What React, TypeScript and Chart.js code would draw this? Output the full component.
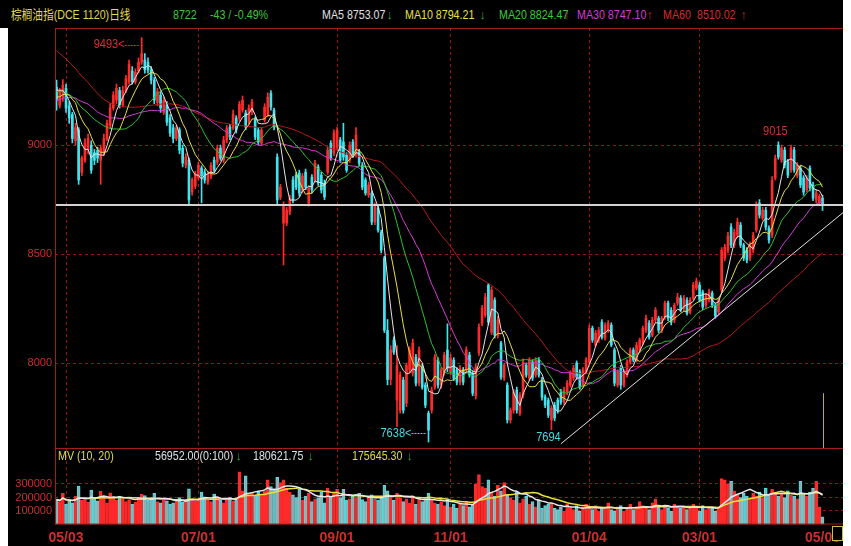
import React, { useEffect, useRef } from 'react';
import { Chart, registerables } from 'chart.js';
Chart.register(...registerables);

const SANS = '"Liberation Sans", Arial, sans-serif';

// closes before the visible window (only used to seed the moving averages)
const histCloses = [
  9980, 10020, 9960, 9990, 9940, 9900, 9960, 9930, 9880, 9920, 9960, 9900, 9850, 9880, 9780,
  9700, 9620, 9560, 9500, 9450, 9420, 9380, 9400, 9350, 9300, 9330, 9280, 9250, 9200, 9180,
  9150, 9100, 9080, 9120, 9060, 9100, 9150, 9130, 9180, 9210,
  9240, 9280, 9300, 9260, 9230, 9290, 9310, 9270, 9250, 9270,
  9220, 9180, 9150, 9170, 9220,
  9240, 9280, 9270, 9260,
];

// [open, high, low, close]
const ohlc: number[][] = [
  [9265, 9298, 9160, 9206], [9183, 9260, 9170, 9243], [9220, 9300, 9200, 9275], [9260, 9280, 9150, 9170], [9180, 9200, 9100, 9125],
  [9140, 9150, 9010, 9030], [9020, 9100, 9000, 9080], [9070, 9080, 8820, 8840], [8875, 8950, 8860, 8940], [8930, 9030, 8920, 9010],
  [8980, 9050, 8960, 9030], [9000, 9020, 8870, 8885], [8965, 8980, 8910, 8930], [8975, 8990, 8920, 8940], [8930, 9000, 8820, 8985],
  [8965, 9050, 8950, 9030], [9030, 9115, 9020, 9100], [9090, 9190, 9080, 9170], [9170, 9245, 9160, 9230], [9206, 9280, 9190, 9260],
  [9250, 9265, 9170, 9185], [9185, 9270, 9175, 9250], [9250, 9320, 9240, 9305], [9290, 9390, 9280, 9370], [9340, 9360, 9280, 9290],
  [9290, 9350, 9280, 9335], [9340, 9400, 9330, 9380], [9380, 9493, 9370, 9420], [9390, 9420, 9330, 9345], [9380, 9400, 9330, 9345],
  [9345, 9360, 9280, 9298], [9298, 9310, 9190, 9206], [9195, 9260, 9180, 9245], [9230, 9245, 9150, 9170], [9150, 9220, 9140, 9206],
  [9185, 9200, 9090, 9105], [9125, 9140, 9040, 9055], [9080, 9095, 9010, 9030], [9030, 9090, 9020, 9078], [9070, 9080, 8960, 8977],
  [8985, 9000, 8900, 8917], [8908, 8960, 8895, 8945], [8930, 8940, 8730, 8748], [8785, 8850, 8770, 8840], [8812, 8880, 8800, 8867],
  [8850, 8920, 8840, 8908], [8895, 8905, 8735, 8858], [8876, 8890, 8825, 8840], [8830, 8880, 8820, 8867], [8858, 8920, 8845, 8908],
  [8931, 8945, 8875, 8885], [8922, 9000, 8910, 8986], [8986, 9000, 8930, 8940], [8931, 9040, 8920, 9023], [9023, 9090, 9010, 9078],
  [9083, 9095, 9025, 9037], [9078, 9160, 9070, 9142], [9124, 9135, 9055, 9069], [9124, 9200, 9110, 9188], [9160, 9225, 9150, 9206],
  [9147, 9160, 9070, 9083], [9105, 9185, 9095, 9170], [9150, 9210, 9140, 9197], [9115, 9130, 9025, 9037], [9069, 9080, 9000, 9014],
  [9009, 9080, 9000, 9069], [9115, 9190, 9105, 9174], [9138, 9240, 9130, 9220], [9238, 9250, 9160, 9174], [9160, 9170, 9070, 9083],
  [8945, 8960, 8730, 8748], [8760, 8820, 8750, 8807], [8642, 8740, 8450, 8725], [8642, 8715, 8630, 8702], [8693, 8770, 8680, 8757],
  [8840, 8855, 8735, 8748], [8862, 8875, 8795, 8807], [8872, 8885, 8765, 8780], [8794, 8870, 8780, 8858], [8876, 8890, 8795, 8807],
  [8734, 8815, 8720, 8803], [8853, 8865, 8780, 8794], [8840, 8930, 8830, 8917], [8900, 8910, 8815, 8826], [8862, 8875, 8780, 8794],
  [8826, 8840, 8750, 8762], [8876, 8990, 8865, 8977], [9009, 9020, 8930, 8940], [8963, 9070, 8950, 9055], [8990, 9080, 8980, 9069],
  [9023, 9035, 8920, 8931], [9014, 9100, 8930, 8945], [8954, 8965, 8875, 8885], [8931, 9015, 8920, 9000], [9014, 9025, 8945, 8954],
  [8954, 9080, 8945, 9046], [8968, 8980, 8905, 8917], [8908, 8920, 8795, 8807], [8840, 8850, 8770, 8780], [8771, 8830, 8760, 8817],
  [8780, 8790, 8635, 8647], [8647, 8735, 8635, 8725], [8711, 8720, 8600, 8610], [8601, 8610, 8505, 8518], [8482, 8490, 8140, 8151],
  [8150, 8200, 7900, 7925], [7925, 8080, 7900, 8060], [8106, 8120, 8040, 8050], [7830, 8080, 7710, 7990], [7784, 7960, 7770, 7945],
  [7922, 7935, 7770, 7784], [7816, 8000, 7800, 7990], [7968, 8075, 7955, 8060], [7954, 8110, 7940, 8092], [8028, 8040, 7895, 7908],
  [7908, 8075, 7895, 8060], [7982, 7995, 7880, 7890], [7899, 7910, 7795, 7807], [7770, 7780, 7638, 7693], [7784, 7890, 7770, 7876],
  [7890, 8040, 7880, 8028], [8014, 8025, 7885, 7899], [7899, 7980, 7885, 7968], [7959, 8050, 7945, 8037], [8060, 8180, 7960, 7977],
  [7959, 8040, 7945, 8023], [8014, 8025, 7920, 7931], [7968, 7980, 7900, 7913], [7913, 7990, 7900, 7977], [7968, 7980, 7900, 7913],
  [7968, 8075, 7955, 8060], [8037, 8050, 7935, 7945], [7954, 7965, 7850, 7862], [7850, 7995, 7835, 7982], [8046, 8180, 8035, 8165],
  [8183, 8265, 8170, 8252], [8220, 8320, 8210, 8303], [8358, 8365, 8175, 8188], [8142, 8350, 8130, 8335], [8289, 8300, 8115, 8128],
  [8128, 8215, 8115, 8197], [8092, 8100, 7925, 7936], [7931, 8000, 7920, 7991], [7899, 7910, 7725, 7739], [7739, 7795, 7725, 7784],
  [7784, 7880, 7770, 7867], [7876, 7890, 7770, 7784], [7770, 7865, 7760, 7853], [7853, 8020, 7840, 8005], [7991, 8000, 7935, 7945],
  [7931, 8025, 7920, 8014], [8005, 8015, 7920, 7931], [7945, 8025, 7935, 8014], [8014, 8025, 7935, 7945], [7922, 7935, 7830, 7844],
  [7844, 7855, 7795, 7807], [7830, 7840, 7750, 7761], [7739, 7805, 7694, 7794], [7807, 7820, 7735, 7748], [7830, 7840, 7770, 7784],
  [7867, 7880, 7810, 7821], [7821, 7890, 7810, 7876], [7867, 7920, 7855, 7908], [7899, 7965, 7890, 7954], [7931, 7990, 7920, 7977],
  [8000, 8010, 7925, 7936], [7959, 7970, 7880, 7890], [7899, 7980, 7890, 7968], [7959, 8025, 7950, 8014], [8005, 8175, 7995, 8160],
  [8160, 8170, 8095, 8106], [8083, 8150, 8075, 8138], [8106, 8165, 8095, 8151], [8188, 8200, 8110, 8119], [8115, 8185, 8105, 8174],
  [8150, 8195, 8140, 8183], [8174, 8185, 8075, 8083], [8060, 8070, 7895, 7908], [7899, 7970, 7890, 7959], [7977, 7990, 7880, 7899],
  [7899, 7970, 7890, 7959], [7945, 8015, 7935, 8005], [8005, 8070, 7995, 8060], [8060, 8070, 8005, 8014], [8014, 8095, 8005, 8083],
  [8060, 8115, 8050, 8106], [8092, 8170, 8085, 8160], [8151, 8220, 8140, 8206], [8183, 8195, 8110, 8119], [8128, 8210, 8120, 8197],
  [8197, 8255, 8185, 8243], [8206, 8215, 8140, 8151], [8151, 8215, 8140, 8206], [8211, 8285, 8200, 8275], [8275, 8285, 8195, 8206],
  [8243, 8255, 8175, 8188], [8197, 8275, 8185, 8266], [8275, 8320, 8265, 8303], [8298, 8310, 8235, 8243], [8252, 8310, 8240, 8298],
  [8289, 8300, 8220, 8229], [8234, 8300, 8225, 8289], [8298, 8370, 8290, 8358], [8344, 8390, 8335, 8376], [8358, 8370, 8280, 8289],
  [8326, 8335, 8245, 8257], [8266, 8320, 8255, 8307], [8289, 8340, 8280, 8326], [8321, 8330, 8255, 8266], [8266, 8275, 8205, 8216],
  [8234, 8300, 8225, 8289], [8335, 8530, 8325, 8518], [8482, 8545, 8470, 8532], [8518, 8600, 8505, 8583], [8624, 8640, 8530, 8541],
  [8541, 8615, 8530, 8601], [8587, 8665, 8575, 8647], [8633, 8645, 8530, 8541], [8541, 8550, 8470, 8482], [8518, 8530, 8460, 8472],
  [8482, 8555, 8470, 8541], [8518, 8600, 8505, 8587], [8610, 8740, 8600, 8725], [8734, 8750, 8665, 8679], [8665, 8715, 8655, 8702],
  [8702, 8715, 8610, 8624], [8619, 8630, 8550, 8564], [8587, 8855, 8575, 8839], [8849, 8955, 8840, 8940], [9000, 9015, 8935, 8945],
  [8931, 9000, 8920, 8986], [8977, 8990, 8895, 8908], [8922, 8935, 8850, 8862], [8885, 9000, 8875, 8986], [8977, 8990, 8875, 8885],
  [8862, 8920, 8850, 8908], [8894, 8905, 8805, 8817], [8849, 8860, 8770, 8784], [8794, 8860, 8785, 8849], [8894, 8905, 8790, 8803],
  [8817, 8830, 8745, 8757], [8748, 8795, 8735, 8780], [8734, 8775, 8725, 8765], [8757, 8770, 8700, 8722],
];

// volume in thousands of lots
const volumesK = [
  185, 170, 230, 150, 175, 160, 210, 285, 180, 200,
  165, 255, 190, 175, 245, 200, 160, 235, 205, 180,
  210, 195, 170, 185, 150, 165, 200, 225, 215, 180,
  190, 230, 170, 160, 185, 175, 150, 160, 175, 200,
  165, 180, 265, 190, 175, 180, 240, 205, 185, 170,
  225, 195, 180, 160, 190, 200, 175, 185, 390, 250,
  360, 220, 230, 215, 240, 225, 250, 330, 280, 260,
  350, 310, 330, 270, 240, 220, 200, 260, 180, 210,
  230, 170, 190, 200, 240, 160, 270, 210, 230, 260,
  200, 260, 180, 190, 210, 200, 230, 185, 170, 200,
  220, 190, 180, 200, 290, 250, 210, 180, 230, 200,
  170, 190, 160, 210, 150, 200, 170, 190, 230, 180,
  160, 150, 170, 140, 190, 130, 150, 120, 160, 140,
  170, 130, 150, 300, 370, 280, 270, 330, 240, 210,
  290, 250, 310, 220, 200, 180, 240, 160, 190, 210,
  150, 170, 130, 180, 120, 140, 150, 160, 120, 110,
  130, 100, 150, 120, 110, 140, 100, 130, 150, 120,
  110, 140, 100, 130, 120, 160, 110, 100, 130, 140,
  100, 120, 150, 110, 130, 170, 140, 120, 110, 160,
  190, 130, 110, 140, 120, 100, 150, 130, 120, 140,
  110, 130, 150, 120, 100, 140, 110, 130, 120, 100,
  130, 340, 330, 300, 320, 250, 220, 200, 230, 210,
  200, 230, 210, 240, 200, 270, 220, 260, 240, 210,
  230, 200, 250, 220, 210, 190, 320, 230, 210, 240,
  270, 320, 130, 57,
];

const tickIndex = [3, 45, 89, 125, 169, 204, 243];
const tickText = ['05/03', '07/01', '09/01', '11/01', '01/04', '03/01', '05/06'];
const emptySlots = 6;
const priceTicks = [8000, 8500, 9000];
const priceRange = [7606, 9537];
const volTicksK = [100, 200, 300];
const volRangeK = [0, 559];
const maPeriods = [5, 10, 20, 30, 60];
const volMaPeriods = [10, 20];
const trendLine = [{ i: 160, p: 7630 }, { i: 249.5, p: 8690 }];
const highMarks = [27, 229];
const lowMarks = [118, 157];
const cursorFrom = 7862;

const RED = '#ff2a2a';
const CYAN = '#3fe4ee';
const GRID = '#9a1616';
const FRAME = '#a81a1a';
const LABEL = '#d02c2c';
const maColors = ['#e6e6e6', '#e8e040', '#2fc02f', '#d63ad6', '#b81a1a'];

function sma(series: number[], hist: number[], n: number) {
  const all = [...hist, ...series];
  return series.map((_, i) => {
    const end = hist.length + i;
    const start = Math.max(0, end - n + 1);
    let s = 0;
    for (let k = start; k <= end; k++) s += all[k];
    return +(s / (end - start + 1)).toFixed(2);
  });
}

function framePlugin(drawTop: boolean) {
  return {
    id: 'frame' + (drawTop ? 'T' : 'B'),
    afterDraw(chart: any) {
      const { ctx, chartArea: a } = chart;
      ctx.save();
      ctx.strokeStyle = FRAME;
      ctx.lineWidth = 1;
      ctx.beginPath();
      ctx.moveTo(a.left + 0.5, a.top);
      ctx.lineTo(a.left + 0.5, a.bottom);
      if (drawTop) {
        ctx.moveTo(a.left, a.top + 0.5);
        ctx.lineTo(a.right, a.top + 0.5);
      }
      ctx.moveTo(a.left, a.bottom - 0.5);
      ctx.lineTo(a.right, a.bottom - 0.5);
      ctx.stroke();
      ctx.restore();
    },
  };
}

export default function App() {
  const priceRef = useRef<HTMLCanvasElement>(null);
  const volRef = useRef<HTMLCanvasElement>(null);

  useEffect(() => {
    const N = ohlc.length;
    const labels = Array.from({ length: N + emptySlots }, (_, i) => {
      const k = tickIndex.indexOf(i);
      return k >= 0 ? tickText[k] : '';
    });
    const closes = ohlc.map((c) => c[3]);
    const up = ohlc.map((c) => c[3] >= c[0]);
    const candleColor = up.map((u) => (u ? RED : CYAN));
    const gridIdx = tickIndex.slice(0, -1);
    const xGridColor = (ctx: any) => (gridIdx.includes(ctx.index) ? GRID : 'rgba(0,0,0,0)');

    const maSets = maPeriods.map((p, k) => ({
      type: 'line' as const,
      label: 'MA' + p,
      data: sma(closes, histCloses, p),
      borderColor: maColors[k],
      borderWidth: 1,
      pointRadius: 0,
      tension: 0,
      order: 0,
    }));

    const annotations = {
      id: 'annot',
      afterDatasetsDraw(chart: any) {
        const { ctx, chartArea: a, scales } = chart;
        const x = scales.x, y = scales.y;
        ctx.save();
        ctx.beginPath();
        ctx.rect(a.left, a.top, a.right - a.left, a.bottom - a.top);
        ctx.clip();
        // last price line
        const yl = Math.round(y.getPixelForValue(closes[N - 1])) - 1;
        ctx.strokeStyle = '#d2d2d2';
        ctx.lineWidth = 2;
        ctx.beginPath();
        ctx.moveTo(a.left, yl);
        ctx.lineTo(a.right, yl);
        ctx.stroke();
        // trend line
        ctx.strokeStyle = '#e0e0e0';
        ctx.lineWidth = 1;
        ctx.beginPath();
        ctx.moveTo(x.getPixelForValue(trendLine[0].i), y.getPixelForValue(trendLine[0].p));
        ctx.lineTo(x.getPixelForValue(trendLine[1].i), y.getPixelForValue(trendLine[1].p));
        ctx.stroke();
        // cursor line
        const cx = Math.round(x.getPixelForValue(N - 1)) + 0.5;
        ctx.strokeStyle = '#b8b030';
        ctx.beginPath();
        ctx.moveTo(cx, y.getPixelForValue(cursorFrom));
        ctx.lineTo(cx, a.bottom);
        ctx.stroke();
        // high / low marks
        ctx.textBaseline = 'middle';
        const marks = [
          ...highMarks.map((i) => ({ i, v: ohlc[i][1], hi: true })),
          ...lowMarks.map((i) => ({ i, v: ohlc[i][2], hi: false })),
        ];
        const gMax = Math.max(...ohlc.map((c) => c[1]));
        const gMin = Math.min(...ohlc.map((c) => c[2]));
        marks.forEach((m) => {
          const px = x.getPixelForValue(m.i);
          const py = y.getPixelForValue(m.v);
          ctx.fillStyle = m.hi ? '#d83030' : '#44d8e4';
          ctx.strokeStyle = ctx.fillStyle;
          const isGlobal = m.hi ? m.v === gMax : m.v === gMin;
          const label = String(m.v);
          if (isGlobal) {
            const ty = m.hi ? py + 7 : py - 9;
            ctx.save();
            ctx.translate(px - 17, ty);
            ctx.scale(0.85, 1);
            ctx.font = '13px ' + SANS;
            ctx.textAlign = 'right';
            ctx.fillText(label + '<', 0, 0);
            ctx.restore();
            ctx.setLineDash([2, 1]);
            ctx.beginPath();
            ctx.moveTo(px - 17, Math.round(ty) + 0.5);
            ctx.lineTo(px - 2, Math.round(ty) + 0.5);
            ctx.stroke();
            ctx.setLineDash([]);
          } else {
            ctx.save();
            ctx.translate(px - 3, m.hi ? py - 10 : py + 8);
            ctx.scale(0.85, 1);
            ctx.font = '13px ' + SANS;
            ctx.textAlign = 'center';
            ctx.fillText(label, 0, 0);
            ctx.restore();
          }
        });
        ctx.restore();
      },
    };

    const c1 = new Chart(priceRef.current as HTMLCanvasElement, {
      type: 'bar',
      data: {
        labels,
        datasets: [
          ...maSets,
          {
            type: 'bar' as const,
            label: 'body',
            data: ohlc.map((c) => [c[0], c[3]]),
            backgroundColor: candleColor,
            barThickness: 2,
            minBarLength: 1,
            grouped: false,
            order: 1,
          } as any,
          {
            type: 'bar' as const,
            label: 'wick',
            data: ohlc.map((c) => [c[2], c[1]]),
            backgroundColor: candleColor,
            barThickness: 1,
            grouped: false,
            order: 2,
          } as any,
        ],
      },
      options: {
        animation: false,
        responsive: true,
        maintainAspectRatio: false,
        events: [],
        layout: { padding: 0 },
        plugins: { legend: { display: false }, tooltip: { enabled: false } },
        scales: {
          x: {
            type: 'category',
            offset: true,
            grid: { offset: false, color: xGridColor, drawTicks: false, lineWidth: 1 },
            border: { display: false, dash: [3, 3] },
            ticks: { display: false, autoSkip: false },
            afterFit: (s: any) => { s.height = 0; s.paddingLeft = 0; s.paddingRight = 0; },
          },
          y: {
            type: 'linear',
            min: priceRange[0],
            max: priceRange[1],
            afterBuildTicks: (s: any) => { s.ticks = priceTicks.map((v) => ({ value: v })); },
            afterFit: (s: any) => { s.width = 55; s.paddingTop = 0; s.paddingBottom = 0; },
            grid: { color: GRID, drawTicks: false, lineWidth: 1 },
            border: { display: false, dash: [3, 3] },
            ticks: {
              color: LABEL,
              font: { family: SANS, size: 11 },
              padding: 3,
              callback: (v: any) => String(v),
            },
          },
        },
      } as any,
      plugins: [annotations, framePlugin(true)],
    });

    const volUp = up.map((u) => (u ? RED : '#a4a4a4'));
    const volBorder = up.map((u) => (u ? RED : CYAN));
    const volMaColors = ['#e8e8e8', '#e8e040'];
    const c2 = new Chart(volRef.current as HTMLCanvasElement, {
      type: 'bar',
      data: {
        labels,
        datasets: [
          ...volMaPeriods.map((p, k) => ({
            type: 'line' as const,
            label: 'MV' + p,
            data: sma(volumesK, [], p),
            borderColor: volMaColors[k],
            borderWidth: 1.5,
            pointRadius: 0,
            tension: 0,
            order: 0,
          })),
          {
            type: 'bar' as const,
            label: 'vol',
            data: volumesK,
            backgroundColor: volUp,
            borderColor: volBorder,
            borderWidth: 1,
            borderSkipped: 'bottom',
            barThickness: 3,
            order: 1,
          } as any,
        ],
      },
      options: {
        animation: false,
        responsive: true,
        maintainAspectRatio: false,
        events: [],
        layout: { padding: 0 },
        plugins: { legend: { display: false }, tooltip: { enabled: false } },
        scales: {
          x: {
            type: 'category',
            offset: true,
            grid: { offset: false, color: xGridColor, drawTicks: false, lineWidth: 1 },
            border: { display: false, dash: [3, 3] },
            ticks: {
              autoSkip: false,
              maxRotation: 0,
              minRotation: 0,
              padding: 5,
              color: LABEL,
              font: { family: SANS, size: 14, weight: 'bold' },
              callback: (_v: any, i: number) => labels[i],
            },
            afterFit: (s: any) => { s.height = 21.5; s.paddingLeft = 0; s.paddingRight = 0; },
          },
          y: {
            type: 'linear',
            min: volRangeK[0],
            max: volRangeK[1],
            afterBuildTicks: (s: any) => { s.ticks = volTicksK.map((v) => ({ value: v })); },
            afterFit: (s: any) => { s.width = 55; s.paddingTop = 0; s.paddingBottom = 0; },
            grid: { color: GRID, drawTicks: false, lineWidth: 1 },
            border: { display: false, dash: [3, 3] },
            ticks: {
              color: LABEL,
              font: { family: SANS, size: 11 },
              padding: 3,
              callback: (v: any) => String(v * 1000),
            },
          },
        },
      } as any,
      plugins: [framePlugin(false)],
    });

    return () => { c1.destroy(); c2.destroy(); };
  }, []);

  const t = (left: number, top: number, color: string, text: string, size = 13) => (
    <span
      style={{
        position: 'absolute',
        left,
        top,
        color,
        fontSize: size,
        lineHeight: '16px',
        whiteSpace: 'nowrap',
        fontFamily: '"Liberation Sans", "Noto Sans CJK SC", sans-serif',
        transform: 'scaleX(0.82)',
        transformOrigin: '0 50%',
      }}
    >
      {text}
    </span>
  );

  return (
    <div style={{ position: 'absolute', left: 0, top: 0, width: 851, height: 546, background: '#ffffff', overflow: 'hidden' }}>
      <div style={{ position: 'absolute', left: 0, top: 0, width: 843, height: 28, background: '#000' }} />
      <div style={{ position: 'absolute', left: 8, top: 28, width: 835, height: 518, background: '#000' }} />
      {t(11, 7, '#e2d850', '棕榈油指(DCE 1120)日线')}
      {t(173, 7, '#3cc83c', '8722')}
      {t(210, 7, '#3cc83c', '-43 / -0.49%')}
      {t(322, 7, '#e0e0e0', 'MA5 8753.07')}
      {t(387, 7, '#30c030', '↓')}
      {t(405, 7, '#e8e040', 'MA10 8794.21')}
      {t(480, 7, '#30c030', '↓')}
      {t(499, 7, '#38cc38', 'MA20 8824.47')}
      {t(564, 7, '#e03030', '↑')}
      {t(577, 7, '#d83ad8', 'MA30 8747.10')}
      {t(647, 7, '#e03030', '↑')}
      {t(663, 7, '#d82a2a', 'MA60')}
      {t(697, 7, '#d82a2a', '8510.02')}
      {t(741, 7, '#e03030', '↑')}
      <div style={{ position: 'absolute', left: 0, top: 28, width: 843, height: 421 }}>
        <canvas ref={priceRef} />
      </div>
      <div style={{ position: 'absolute', left: 0, top: 449, width: 843, height: 97 }}>
        <canvas ref={volRef} />
      </div>
      {t(58, 448, '#e2d850', 'MV (10, 20)')}
      {t(155, 448, '#e0e0e0', '56952.00(0:100)')}
      {t(236, 448, '#30c030', '↓')}
      {t(253, 448, '#e0e0e0', '180621.75')}
      {t(308, 448, '#30c030', '↓')}
      {t(352, 448, '#e2d850', '175645.30')}
      {t(407, 448, '#30c030', '↓')}
      <div style={{ position: 'absolute', left: 832, top: 526, width: 9, height: 13, background: '#000', border: '1px solid #c8c040' }} />
    </div>
  );
}
